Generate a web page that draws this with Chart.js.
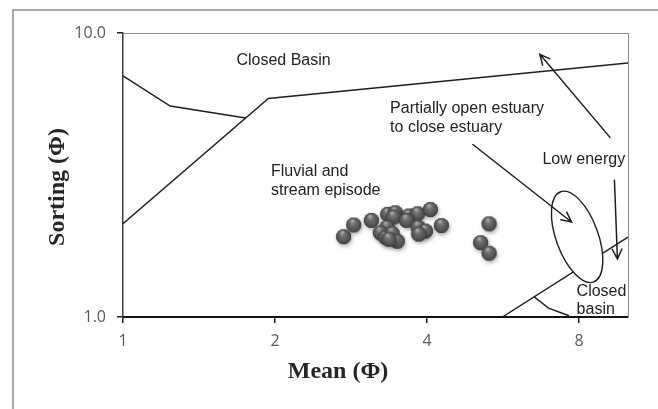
<!DOCTYPE html>
<html>
<head>
<meta charset="utf-8">
<script src="https://cdn.jsdelivr.net/npm/chart.js@4/dist/chart.umd.min.js"></script>
<style>
  html, body { margin: 0; padding: 0; background: #fff; }
  canvas { display: block; }
</style>
</head>
<body>
<canvas id="chart" width="658" height="409"></canvas>
<script>
// Sample statistics: graphic mean (phi) and sorting (phi)
const meanPhi    = [2.74, 2.87, 3.11, 3.35, 3.47, 3.44, 3.69, 3.84, 4.07, 4.28, 3.65, 3.85, 3.98, 3.86, 3.34, 3.24, 3.32, 3.42, 3.50, 3.37, 5.32, 5.12, 5.32];
const sortingPhi = [1.91, 2.10, 2.18, 2.29, 2.32, 2.24, 2.26, 2.30, 2.38, 2.09, 2.18, 2.06, 2.00, 1.95, 2.06, 1.97, 1.90, 1.96, 1.84, 1.87, 2.12, 1.82, 1.67];

// Environment boundary lines (mean, sorting)
const boundaryA_mean = [1, 1.24, 1.75];
const boundaryA_sort = [7.06, 5.53, 5.02];
const boundaryB_mean = [1, 1.94, 10];
const boundaryB_sort = [2.13, 5.88, 7.84];
const boundaryC_mean = [5.64, 10];
const boundaryC_sort = [1.0, 1.91];
const boundaryD_mean = [6.51, 6.96, 7.64];
const boundaryD_sort = [1.18, 1.075, 1.01];

// Axis ticks
const meanTicks = [1, 2, 4, 8];
const meanTickLabels = ['1', '2', '4', '8'];
const sortTicks = [1, 10];
const sortTickLabels = ['1.0', '10.0'];

// Field labels and arrows (anchored in data units)
const fieldLabels = [
  { mean: 1.677, sort: 8.01, lines: ['Closed Basin'] },
  { mean: 3.38,  sort: 5.41, lines: ['Partially open estuary', 'to close estuary'] },
  { mean: 6.77,  sort: 3.57, lines: ['Low energy'] },
  { mean: 1.964, sort: 3.25, lines: ['Fluvial and', 'stream episode'] },
  { mean: 7.91,  sort: 1.23, lines: ['Closed', 'basin'] }
];
const arrowFromMean = [9.21, 4.93, 9.40];
const arrowFromSort = [4.29, 4.05, 3.03];
const arrowToMean   = [6.69, 7.73, 9.53];
const arrowToSort   = [8.41, 2.16, 1.60];

const toPoints = (xs, ys) => xs.map((v, i) => ({ x: v, y: ys[i] }));

// Shaded sphere used as the sample marker
function makeSphere() {
  const c = document.createElement('canvas');
  c.width = 24; c.height = 24;
  const g = c.getContext('2d');
  const cx = 11.5, cy = 11.5, r = 7.6;
  g.save();
  g.shadowColor = 'rgba(0,0,0,0.35)';
  g.shadowBlur = 4;
  g.shadowOffsetX = 1;
  g.shadowOffsetY = 2;
  g.beginPath(); g.arc(cx, cy, r, 0, Math.PI * 2);
  g.fillStyle = '#4a4a4a'; g.fill();
  g.restore();
  const grad = g.createRadialGradient(cx - 1.5, cy - 4.5, 0.5, cx, cy, r);
  grad.addColorStop(0, '#ababab');
  grad.addColorStop(0.35, '#6e6e6e');
  grad.addColorStop(0.8, '#525252');
  grad.addColorStop(1, '#3c3c3c');
  g.beginPath(); g.arc(cx, cy, r, 0, Math.PI * 2);
  g.fillStyle = grad; g.fill();
  return c;
}

const lineStyle = {
  showLine: true, pointRadius: 0, borderColor: '#1e1e1e', borderWidth: 1.4,
  backgroundColor: 'transparent', fill: false, tension: 0
};

const overlay = {
  id: 'diagramOverlay',
  beforeDatasetsDraw(chart) {
    const { ctx, chartArea: a } = chart;
    ctx.save();
    ctx.strokeStyle = '#8a8a8a';
    ctx.lineWidth = 1;
    ctx.beginPath();
    ctx.moveTo(a.left, a.top + 0.5); ctx.lineTo(a.right + 0.5, a.top + 0.5);
    ctx.lineTo(a.right + 0.5, a.bottom);
    ctx.stroke();
    ctx.restore();
  },
  afterDatasetsDraw(chart, args, opts) {
    const { ctx, scales: { x, y } } = chart;
    ctx.save();
    // estuary ellipse
    const e = opts.ellipse;
    const ex = x.getPixelForValue(e.mean), ey = y.getPixelForValue(e.sort);
    ctx.beginPath();
    ctx.ellipse(ex, ey, e.rx, e.ry, e.rotation, 0, Math.PI * 2);
    ctx.fillStyle = '#fff'; ctx.fill();
    ctx.strokeStyle = '#1e1e1e'; ctx.lineWidth = 1.4; ctx.stroke();

    // arrows
    ctx.lineWidth = 1.5; ctx.strokeStyle = '#1e1e1e'; ctx.lineCap = 'round';
    for (let i = 0; i < arrowFromMean.length; i++) {
      const x0 = x.getPixelForValue(arrowFromMean[i]), y0 = y.getPixelForValue(arrowFromSort[i]);
      const x1 = x.getPixelForValue(arrowToMean[i]), y1 = y.getPixelForValue(arrowToSort[i]);
      const ang = Math.atan2(y1 - y0, x1 - x0);
      const h = 11, spread = 0.45;
      ctx.beginPath();
      ctx.moveTo(x0, y0); ctx.lineTo(x1, y1);
      ctx.moveTo(x1 - h * Math.cos(ang - spread), y1 - h * Math.sin(ang - spread));
      ctx.lineTo(x1, y1);
      ctx.lineTo(x1 - h * Math.cos(ang + spread), y1 - h * Math.sin(ang + spread));
      ctx.stroke();
    }

    // field labels
    ctx.fillStyle = '#222';
    ctx.font = '16px "Liberation Sans", Arial, sans-serif';
    ctx.textAlign = 'left';
    ctx.textBaseline = 'middle';
    fieldLabels.forEach(l => {
      const lx = x.getPixelForValue(l.mean), ly = y.getPixelForValue(l.sort);
      l.lines.forEach((t, k) => ctx.fillText(t, lx, ly + k * 18.5));
    });
    ctx.restore();
  },
  afterDraw(chart, args, opts) {
    const { ctx, chartArea: a } = chart;
    ctx.save();
    // outer frame
    ctx.strokeStyle = '#8c8c8c'; ctx.lineWidth = 1.5;
    ctx.beginPath();
    ctx.moveTo(13, chart.height); ctx.lineTo(13, 10); ctx.lineTo(chart.width, 10);
    ctx.stroke();
    // axis titles
    ctx.fillStyle = '#262626';
    ctx.font = 'bold 24px "Liberation Serif", "Times New Roman", serif';
    ctx.textAlign = 'center'; ctx.textBaseline = 'middle';
    ctx.fillText(opts.xTitle, a.left + opts.xTitleShift, 372);
    ctx.translate(58, (a.top + a.bottom) / 2 + opts.yTitleShift);
    ctx.rotate(-Math.PI / 2);
    ctx.fillText(opts.yTitle, 0, 0);
    ctx.restore();
  }
};

const tickFont = { family: '"Open Sans", sans-serif', size: 16 };

new Chart(document.getElementById('chart'), {
  type: 'scatter',
  data: {
    datasets: [
      { ...lineStyle, data: toPoints(boundaryA_mean, boundaryA_sort) },
      { ...lineStyle, data: toPoints(boundaryB_mean, boundaryB_sort) },
      { ...lineStyle, data: toPoints(boundaryC_mean, boundaryC_sort) },
      { ...lineStyle, data: toPoints(boundaryD_mean, boundaryD_sort) },
      {
        label: 'Samples',
        data: toPoints(meanPhi, sortingPhi),
        pointStyle: makeSphere(),
        pointRadius: 7.5,
        showLine: false
      }
    ]
  },
  options: {
    responsive: false,
    animation: false,
    events: [],
    layout: { padding: { top: 33, right: 30, left: 0, bottom: 0 } },
    plugins: {
      legend: { display: false },
      tooltip: { enabled: false },
      diagramOverlay: {
        ellipse: { mean: 7.93, sort: 1.915, rx: 21, ry: 48, rotation: -0.35 },
        xTitle: 'Mean (Φ)', xTitleShift: 215,
        yTitle: 'Sorting (Φ)', yTitleShift: 12
      }
    },
    scales: {
      x: {
        type: 'logarithmic',
        min: 1, max: 10,
        afterBuildTicks: s => { s.ticks = meanTicks.map(v => ({ value: v })); },
        afterFit: s => { s.height = 92; },
        ticks: {
          color: '#595959', font: tickFont, padding: 9, maxRotation: 0, autoSkip: false,
          callback: (v) => meanTickLabels[meanTicks.indexOf(v)]
        },
        grid: { drawOnChartArea: false, drawTicks: true, tickLength: 6, color: '#222', lineWidth: 1.5 },
        border: { display: true, color: '#111', width: 2 }
      },
      y: {
        type: 'logarithmic',
        min: 1, max: 10,
        afterBuildTicks: s => { s.ticks = sortTicks.map(v => ({ value: v })); },
        afterFit: s => { s.width = 123; },
        ticks: {
          color: '#595959', font: tickFont, padding: 11, autoSkip: false,
          callback: (v) => sortTickLabels[sortTicks.indexOf(v)]
        },
        grid: { drawOnChartArea: false, drawTicks: true, tickLength: 6, color: '#222', lineWidth: 1.5 },
        border: { display: true, color: '#3a3a3a', width: 1.5 }
      }
    }
  },
  plugins: [overlay]
});
</script>
</body>
</html>
